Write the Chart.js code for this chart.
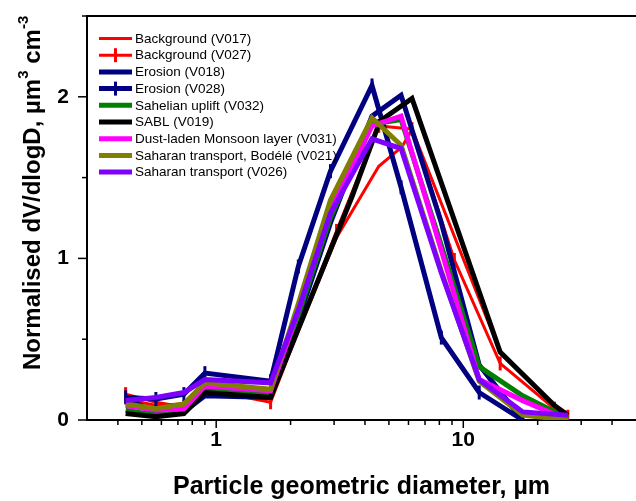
<!DOCTYPE html>
<html>
<head>
<meta charset="utf-8">
<script src="https://cdn.jsdelivr.net/npm/chart.js@4.4.0/dist/chart.umd.min.js"></script>
<style>
  html, body { margin: 0; padding: 0; background: #fff; }
  #wrap { width: 636px; height: 501px; }
</style>
</head>
<body>
<div id="wrap"><canvas id="c" width="636" height="501"></canvas></div>
<script>
const FONT = "'Liberation Sans', Arial, sans-serif";

// size bins, um
const binsA    = [0.43, 0.57, 0.74, 0.90, 1.66, 2.15, 2.9, 4.27, 5.6, 8.15, 11.6, 17.4, 26.5];
const binsV017 = [0.43, 0.57, 0.74, 0.90, 1.66, 3.07, 4.55, 5.65, 6.2, 14.1, 23.4, 26.5];
const binsV027 = [0.43, 0.57, 0.74, 0.90, 1.66, 3.07, 4.55, 6.2, 9.2, 14.1, 23.4, 26.5];
const binsV019 = [0.43, 0.57, 0.74, 0.90, 1.66, 3.54, 4.6, 6.2, 14.1, 23.4, 26.5];

// normalised dV/dlogD
const bgV017      = [0.13, 0.09, 0.10, 0.17, 0.13, 1.13, 1.57, 1.69, 1.80, 0.42, 0.09, 0.04];
const bgV027      = [0.16, 0.11, 0.08, 0.19, 0.11, 1.17, 1.82, 1.80, 0.99, 0.35, 0.07, 0.02];
const erosionV018 = [0.14, 0.04, 0.05, 0.15, 0.14, 0.62, 1.22, 1.88, 2.01, 1.22, 0.34, 0.0];
const erosionV028 = [0.14, 0.13, 0.16, 0.29, 0.24, 0.95, 1.54, 2.07, 1.44, 0.51, 0.17, 0.0];
const sahelV032   = [0.06, 0.03, 0.05, 0.19, 0.16, 0.65, 1.25, 1.83, 1.86, 1.08, 0.33, 0.15, 0.01];
const sablV019    = [0.04, 0.02, 0.04, 0.17, 0.14, 1.38, 1.85, 1.99, 0.42, 0.09, 0.03];
const monsoonV031 = [0.09, 0.06, 0.07, 0.21, 0.18, 0.68, 1.30, 1.82, 1.88, 1.05, 0.25, 0.12, 0.0];
const bodeleV021  = [0.10, 0.07, 0.10, 0.23, 0.19, 0.72, 1.36, 1.87, 1.70, 0.92, 0.24, 0.03, 0.0];
const saharaV026  = [0.12, 0.14, 0.17, 0.25, 0.23, 0.68, 1.28, 1.74, 1.68, 0.91, 0.25, 0.05, 0.03];

const xMajor = [1, 10];
const xMinor = [0.4, 0.5, 0.6, 0.7, 0.8, 0.9, 2, 3, 4, 5, 6, 7, 8, 9, 20, 30, 40];
const yMajor = [0, 1, 2];
const yMinor = [0.5, 1.5, 2.5];

const series = [
  { label: 'Background (V017)', x: binsV017, y: bgV017, color: '#ff0000', w: 3, marker: false },
  { label: 'Background (V027)', x: binsV027, y: bgV027, color: '#ff0000', w: 3, marker: true },
  { label: 'Erosion (V018)', x: binsA, y: erosionV018, color: '#000080', w: 5, marker: false },
  { label: 'Erosion (V028)', x: binsA, y: erosionV028, color: '#000080', w: 5, marker: true },
  { label: 'Sahelian uplift (V032)', x: binsA, y: sahelV032, color: '#008000', w: 5, marker: false },
  { label: 'SABL (V019)', x: binsV019, y: sablV019, color: '#000000', w: 5, marker: false },
  { label: 'Dust-laden Monsoon layer (V031)', x: binsA, y: monsoonV031, color: '#ff00ff', w: 5, marker: false },
  { label: 'Saharan transport, Bodélé (V021)', x: binsA, y: bodeleV021, color: '#808000', w: 5, marker: false },
  { label: 'Saharan transport (V026)', x: binsA, y: saharaV026, color: '#8000ff', w: 5, marker: false }
];

const datasets = series.map((s, i) => ({
  label: s.label,
  data: s.y.map((v, k) => ({ x: s.x[k], y: v })),
  borderColor: s.color,
  backgroundColor: s.color,
  borderWidth: s.w,
  tension: 0,
  fill: false,
  order: series.length - 1 - i, // later series on top
  pointStyle: 'line',
  pointRotation: 90,
  pointRadius: s.marker ? 7 : 0,
  pointBorderWidth: s.marker ? 3 : 0,
  pointBorderColor: s.color
}));

// no label padding, the plot box is fixed
const fixBox = (s, key, size) => {
  s[key] = size;
  s.paddingTop = 0; s.paddingBottom = 0; s.paddingLeft = 0; s.paddingRight = 0;
};

// axes ticks, frame, y title and legend
const decorPlugin = {
  id: 'decor',
  afterDraw(chart) {
    const { ctx, chartArea: a, scales: { x, y } } = chart;
    ctx.save();
    ctx.strokeStyle = '#000';
    ctx.lineWidth = 2;
    ctx.beginPath();
    ctx.moveTo(a.left, a.top);
    ctx.lineTo(a.right, a.top);
    ctx.stroke();

    ctx.lineWidth = 1.5;
    const tick = (x1, y1, x2, y2) => { ctx.beginPath(); ctx.moveTo(x1, y1); ctx.lineTo(x2, y2); ctx.stroke(); };
    xMajor.forEach(v => { const p = x.getPixelForValue(v); tick(p, a.bottom, p, a.bottom + 8); });
    xMinor.forEach(v => { const p = x.getPixelForValue(v); tick(p, a.bottom, p, a.bottom + 5); });
    yMajor.forEach(v => { const p = y.getPixelForValue(v); tick(a.left, p, a.left - 9, p); });
    yMinor.forEach(v => { const p = y.getPixelForValue(v); tick(a.left, p, a.left - 5, p); });

    // y title with superscripts
    ctx.fillStyle = '#000';
    ctx.translate(40, 370);
    ctx.rotate(-Math.PI / 2);
    ctx.textBaseline = 'alphabetic';
    ctx.textAlign = 'left';
    const big = 'bold 24px ' + FONT, sup = 'bold 15px ' + FONT;
    const parts = [['Normalised dV/dlogD, µm', big, 0], ['3', sup, -12], [' cm', big, 0], ['-3', sup, -12]];
    let u = 0;
    parts.forEach(([t, f, dv]) => { ctx.font = f; ctx.fillText(t, u, dv); u += ctx.measureText(t).width; });
    ctx.setTransform(1, 0, 0, 1, 0, 0);

    // legend
    ctx.font = '13.5px ' + FONT;
    ctx.textBaseline = 'middle';
    series.forEach((s, i) => {
      const ly = 38.5 + i * 16.7;
      ctx.strokeStyle = s.color;
      ctx.lineWidth = s.w === 3 ? 3 : 5;
      tick(99, ly, 132, ly);
      if (s.marker) { ctx.lineWidth = 3; tick(115.5, ly - 7, 115.5, ly + 7); }
      ctx.fillStyle = '#000';
      ctx.fillText(s.label, 135, ly + 0.5);
    });
    ctx.restore();
  }
};

new Chart(document.getElementById('c'), {
  type: 'line',
  data: { datasets },
  options: {
    responsive: false,
    animation: false,
    devicePixelRatio: 1,
    layout: { autoPadding: false, padding: { top: 16, right: 0, left: 0, bottom: 0 } },
    plugins: { legend: { display: false }, tooltip: { enabled: false } },
    scales: {
      x: {
        type: 'logarithmic',
        min: 0.3,
        max: 50,
        grid: { display: true, drawOnChartArea: false, drawTicks: false },
        border: { display: true, color: '#000', width: 2 },
        ticks: {
          autoSkip: false,
          maxRotation: 0,
          padding: 8,
          color: '#000',
          font: { family: FONT, size: 21, weight: 'bold' },
          callback: v => (v === 1 ? '1' : v === 10 ? '10' : '')
        },
        title: {
          display: true,
          text: 'Particle geometric diameter, µm',
          color: '#000',
          font: { family: FONT, size: 25, weight: 'bold', lineHeight: 1.1 },
          padding: 0
        },
        afterFit: s => fixBox(s, 'height', 81)
      },
      y: {
        min: 0,
        max: 2.5,
        grid: { display: true, drawOnChartArea: false, drawTicks: false },
        border: { display: true, color: '#000', width: 2 },
        ticks: {
          stepSize: 0.5,
          padding: 18,
          color: '#000',
          font: { family: FONT, size: 21, weight: 'bold' },
          callback: v => (Number.isInteger(v) ? String(v) : '')
        },
        afterFit: s => fixBox(s, 'width', 87)
      }
    }
  },
  plugins: [decorPlugin]
});
</script>
</body>
</html>
